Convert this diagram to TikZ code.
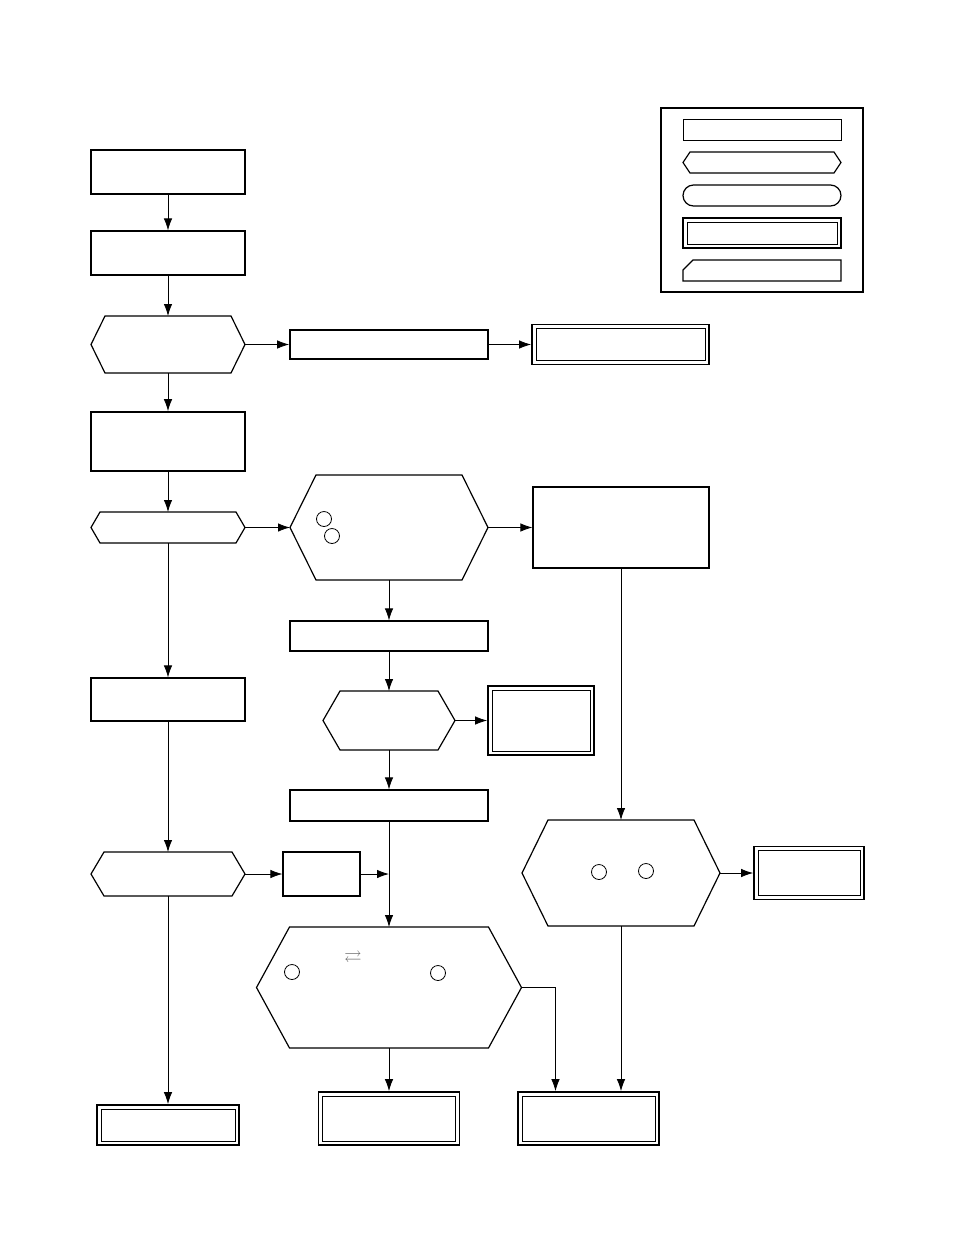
\documentclass[tikz,border=0pt]{standalone}
\usepackage{amsmath,amssymb}
\usetikzlibrary{arrows.meta,positioning,shapes.misc}
\tikzset{
  box/.style={
    draw,
    line width=1.2pt,
    inner sep=0pt,
    fill=white
  },
  boldbox/.style={box, line width=1.7pt},
  endbox/.style={box, line width=1.8pt},
  hexbox/.style={rectangle, inner sep=0pt, outer sep=0pt},
  outline/.style={line width=1.2pt, fill=white, line join=miter},
  roundbox/.style={box, rounded rectangle},
  numcircle/.style={circle, draw, line width=0.8pt, inner sep=0pt, minimum size=15pt},
  arrow/.style={-{Latex[length=12pt,width=8.5pt]}, line width=0.8pt}
}

\begin{document}
\begin{tikzpicture}[x=1pt, y=-1pt]
  \useasboundingbox (0,0) rectangle (954,1235);

  % legend
  \node[box, line width=2pt, minimum width=202pt, minimum height=184pt] (legend) at (762,200) {};
  \node[box, line width=1pt, minimum width=158pt, minimum height=21pt] (legrect) at (762,129.5) {};
  \node[hexbox, minimum width=158pt, minimum height=21pt] (leghex) at (762,162.5) {};
  \node[roundbox, minimum width=158pt, minimum height=21pt] (leground) at (762,195.5) {};
  \node[endbox, minimum width=158pt, minimum height=30pt] (legdouble) at (762,233) {};
  \node[hexbox, minimum width=158pt, minimum height=21pt] (legcut) at (762,270.5) {};
  \draw[outline] ([yshift=-10pt]legcut.north west) -- ([xshift=10pt]legcut.north west)
    -- (legcut.north east) -- (legcut.south east) -- (legcut.south west) -- cycle;

  % flow
  \node[boldbox, minimum width=154pt, minimum height=44pt] (start) at (168,172) {};
  \node[box, minimum width=154pt, minimum height=44pt] (init) at (168,253) {};
  \node[hexbox, minimum width=154pt, minimum height=57pt] (chk1) at (168,344.5) {};
  \node[boldbox, minimum width=198pt, minimum height=29pt] (act1) at (389,344.5) {};
  \node[endbox, minimum width=177pt, minimum height=40pt] (stop1) at (620.5,344.5) {};
  \node[boldbox, minimum width=154pt, minimum height=59pt] (prep) at (168,441.5) {};
  \node[hexbox, minimum width=154pt, minimum height=31pt] (sel) at (168,527.5) {};
  \node[hexbox, minimum width=198pt, minimum height=105pt] (chk2) at (389,527.5) {};
  \node[box, minimum width=176pt, minimum height=81pt] (info) at (621,527.5) {};
  \node[box, minimum width=198pt, minimum height=30pt] (act2) at (389,636) {};
  \node[box, minimum width=154pt, minimum height=43pt] (other) at (168,699.5) {};
  \node[hexbox, minimum width=132pt, minimum height=59pt] (chk3) at (389,720.5) {};
  \node[endbox, minimum width=106pt, minimum height=69pt] (stop2) at (541,720.5) {};
  \node[box, minimum width=198pt, minimum height=31pt] (act3) at (389,805.5) {};
  \node[hexbox, minimum width=154pt, minimum height=44pt] (sel2) at (168,874) {};
  \node[box, minimum width=77pt, minimum height=44pt] (act4) at (321.5,874) {};
  \node[hexbox, minimum width=198pt, minimum height=106pt] (chk4) at (621,873) {};
  \node[endbox, minimum width=110pt, minimum height=53pt] (stop3) at (809,873) {};
  \node[hexbox, minimum width=265pt, minimum height=121pt] (chk5) at (389,987.5) {};
  \node[endbox, minimum width=142pt, minimum height=40pt] (stop4) at (168,1125) {};
  \node[endbox, minimum width=141pt, minimum height=53pt] (stop5) at (389,1118.5) {};
  \node[endbox, minimum width=141pt, minimum height=53pt] (stop6) at (588.5,1118.5) {};

  % hexagon outlines (slant per node)
  \foreach \n/\d in {leghex/7,chk1/14,sel/9,chk2/26,chk3/17,sel2/13,chk4/26,chk5/33}
    \draw[outline] (\n.west) -- ([xshift=\d pt]\n.north west) -- ([xshift=-\d pt]\n.north east)
      -- (\n.east) -- ([xshift=-\d pt]\n.south east) -- ([xshift=\d pt]\n.south west) -- cycle;

  % inner frames of the end boxes
  \foreach \n in {legdouble,stop1,stop2,stop3,stop4,stop5,stop6}
    \draw[line width=0.8pt] ([shift={(5pt,5pt)}]\n.south west) rectangle ([shift={(-5pt,-5pt)}]\n.north east);

  % circled marks
  \node[numcircle] (c1) at (324,519) {};
  \node[numcircle] (c2) at (332,536) {};
  \node[numcircle] (c3) at (599,872) {};
  \node[numcircle] (c4) at (646,871) {};
  \node[numcircle] (c5) at (292,972) {};
  \node[numcircle] (c6) at (438,973) {};
  \node[text=black!60, font=\LARGE] (swap) at (353,958) {$\rightleftarrows$};

  % connectors
  \draw[arrow] (start) -- (init);
  \draw[arrow] (init) -- (chk1);
  \draw[arrow] (chk1) -- (act1);
  \draw[arrow] (act1) -- (stop1);
  \draw[arrow] (chk1) -- (prep);
  \draw[arrow] (prep) -- (sel);
  \draw[arrow] (sel) -- (chk2);
  \draw[arrow] (chk2) -- (info);
  \draw[arrow] (sel) -- (other);
  \draw[arrow] (chk2) -- (act2);
  \draw[arrow] (act2) -- (chk3);
  \draw[arrow] (chk3) -- (stop2);
  \draw[arrow] (chk3) -- (act3);
  \draw[arrow] (act3) -- (chk5);
  \draw[arrow] (other) -- (sel2);
  \draw[arrow] (sel2) -- (act4);
  \draw[arrow] (act4.east) -- (act4.east -| act3.south);
  \draw[arrow] (sel2) -- (stop4);
  \draw[arrow] (info) -- (chk4);
  \draw[arrow] (chk4) -- (stop3);
  \draw[arrow] (chk5) -- (stop5);
  \draw[arrow] (chk5.east) -| ([xshift=-33pt]stop6.north);
  \draw[arrow] (chk4.south) -- (chk4.south |- stop6.north);
\end{tikzpicture}
\end{document}
